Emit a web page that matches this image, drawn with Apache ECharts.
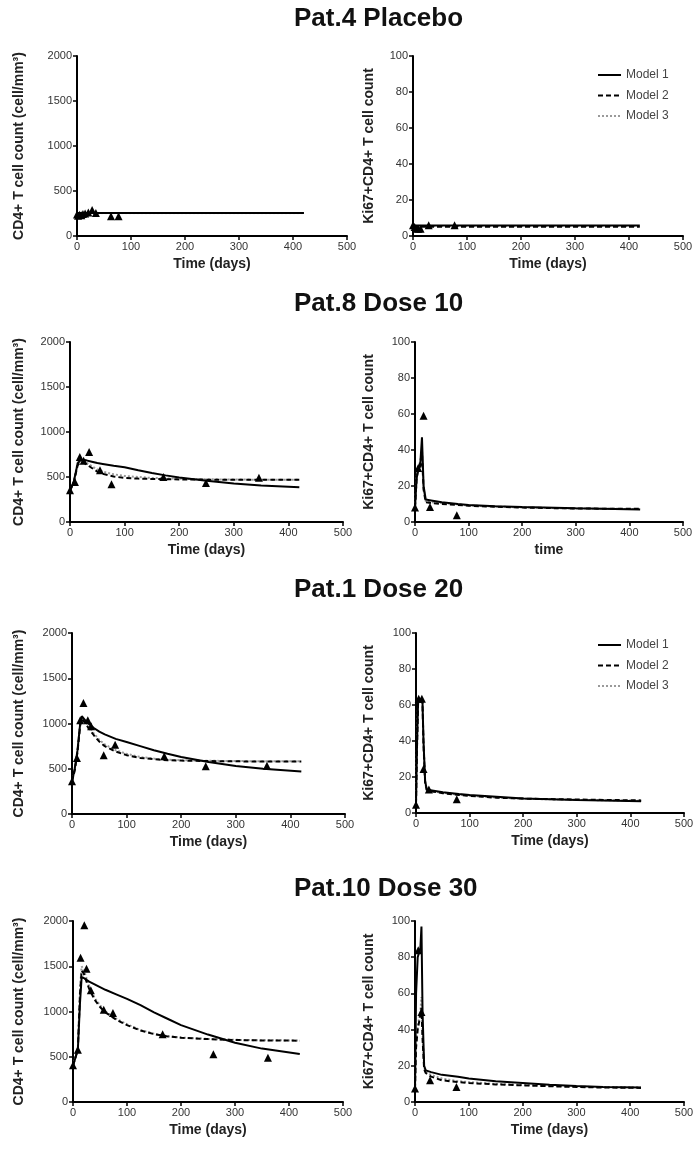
<!DOCTYPE html>
<html>
<head>
<meta charset="utf-8">
<script src="https://cdn.jsdelivr.net/npm/echarts@6/dist/echarts.min.js"></script>
<style>
  html, body { margin: 0; background: #fff; }
  #chart { width: 698px; height: 1150px; }
</style>
</head>
<body>
<div id="chart"></div>
<script>
// panel titles and axis names
const titles = ['Pat.4 Placebo', 'Pat.8 Dose 10', 'Pat.1 Dose 20', 'Pat.10 Dose 30'];
const modelNames = ['Model 1', 'Model 2', 'Model 3'];
const cdAxisName = 'CD4+ T cell count (cell/mm³)';
const kiAxisName = 'Ki67+CD4+ T cell count';
const xAxisNames = ['Time (days)', 'Time (days)', 'Time (days)', 'time', 'Time (days)', 'Time (days)', 'Time (days)', 'Time (days)'];

// Pat.4 placebo
const p4CdObsT = [0, 2, 5, 8, 11, 15, 21, 28, 35, 63, 77];
const p4CdObsY = [240, 225, 235, 230, 245, 250, 260, 290, 255, 220, 220];
const p4CdModT = [0, 420];
const p4CdM1 = [255, 255];
const p4CdM2 = [255, 255];
const p4CdM3 = [255, 255];
const p4KiObsT = [0, 3, 7, 10, 14, 29, 77];
const p4KiObsY = [6, 5, 4, 4, 4, 6, 6];
const p4KiModT = [0, 420];
const p4KiM1 = [5.8, 5.8];
const p4KiM2 = [5.2, 5.2];
const p4KiM3 = [5.5, 5.5];

// Pat.8 dose 10
const p8CdObsT = [0, 9, 18, 25, 35, 55, 76, 171, 249, 346];
const p8CdObsY = [352, 444, 722, 680, 778, 574, 419, 500, 433, 493];
const p8CdModT = [0, 7, 14, 18, 21, 25, 30, 40, 50, 60, 80, 100, 125, 150, 175, 200, 250, 300, 350, 420];
const p8CdM1 = [350, 450, 650, 680, 690, 690, 685, 670, 655, 645, 625, 608, 575, 545, 518, 495, 458, 428, 405, 385];
const p8CdM2 = [350, 440, 630, 660, 665, 660, 640, 600, 560, 535, 505, 490, 482, 478, 475, 473, 471, 470, 470, 470];
const p8CdM3 = [350, 450, 660, 690, 690, 680, 660, 620, 585, 560, 530, 512, 500, 490, 485, 480, 475, 472, 470, 468];
const p8KiObsT = [0, 6, 16, 28, 78];
const p8KiObsY = [8, 30, 59, 8.3, 3.7];
const p8KiModT = [0, 3, 6, 10, 13, 16, 20, 30, 50, 80, 100, 150, 200, 300, 420];
const p8KiM1 = [8, 24, 30, 33, 47, 20, 12.5, 12, 11, 10, 9.5, 8.8, 8.3, 7.6, 7];
const p8KiM2 = [8, 24, 29, 31, 38, 18, 11, 10.5, 10, 9.5, 9, 8.5, 8, 7.5, 7.3];
const p8KiM3 = [8, 25, 30, 34, 40, 19, 11.5, 11, 10.5, 9.8, 9.2, 8.6, 8.1, 7.5, 7.2];

// Pat.1 dose 20
const p1CdObsT = [0, 9, 15, 21, 29, 35, 58, 79, 169, 245, 357];
const p1CdObsY = [361, 619, 1035, 1226, 1035, 969, 648, 766, 637, 527, 534];
const p1CdModT = [0, 5, 10, 15, 18, 21, 25, 30, 40, 50, 60, 80, 100, 125, 150, 175, 200, 250, 300, 350, 420];
const p1CdM1 = [360, 500, 700, 1000, 1080, 1060, 1030, 1000, 950, 910, 880, 830, 795, 750, 705, 665, 630, 575, 530, 500, 470];
const p1CdM2 = [360, 480, 680, 980, 1050, 1040, 1000, 950, 870, 800, 750, 690, 650, 620, 605, 595, 590, 585, 582, 580, 580];
const p1CdM3 = [360, 490, 690, 1000, 1070, 1060, 1020, 970, 890, 820, 770, 705, 665, 630, 612, 600, 594, 588, 585, 583, 582];
const p1KiObsT = [0, 5, 11, 14, 24, 76];
const p1KiObsY = [4.6, 63.5, 63.5, 24.5, 13, 7.7];
const p1KiModT = [0, 2, 4, 8, 12, 14, 17, 20, 30, 50, 80, 100, 150, 200, 300, 420];
const p1KiM1 = [5, 40, 63, 63, 63, 40, 18, 13, 12.5, 11.5, 10.5, 10, 9, 8, 7.2, 6.5];
const p1KiM2 = [5, 38, 62, 62, 62, 38, 17, 13, 12, 11, 10, 9.5, 8.5, 8, 7.5, 7];
const p1KiM3 = [5, 39, 62, 63, 62, 39, 17, 12.5, 12, 11.2, 10.2, 9.6, 8.6, 7.9, 7.3, 6.8];

// Pat.10 dose 30
const p10CdObsT = [0, 9, 14, 21, 25, 33, 57, 74, 166, 260, 361];
const p10CdObsY = [405, 578, 1595, 1952, 1473, 1234, 1020, 983, 748, 527, 490];
const p10CdModT = [0, 5, 9, 13, 16, 20, 25, 30, 40, 50, 60, 80, 100, 125, 150, 175, 200, 250, 300, 350, 420];
const p10CdM1 = [400, 500, 580, 1100, 1380, 1370, 1350, 1330, 1300, 1270, 1240, 1190, 1140, 1070, 990, 920, 850, 745, 655, 590, 530];
const p10CdM2 = [400, 500, 580, 1200, 1450, 1420, 1330, 1250, 1130, 1050, 990, 910, 850, 790, 750, 725, 710, 695, 685, 680, 678];
const p10CdM3 = [400, 510, 590, 1250, 1500, 1460, 1370, 1280, 1150, 1070, 1000, 920, 860, 795, 755, 728, 712, 697, 687, 682, 680];
const p10KiObsT = [0, 6, 12, 28, 77];
const p10KiObsY = [7.4, 83.8, 49.7, 12, 8.3];
const p10KiModT = [0, 2, 5, 10, 12, 14, 17, 20, 30, 50, 80, 100, 150, 200, 250, 300, 350, 420];
const p10KiM1 = [7, 60, 80, 85, 97, 50, 20, 17.5, 16.5, 15, 14, 13, 11.5, 10.5, 9.5, 8.8, 8.3, 8];
const p10KiM2 = [7, 30, 40, 48, 52, 35, 18, 16, 14, 12, 11, 10.5, 9.7, 9.2, 8.7, 8.3, 8, 7.8];
const p10KiM3 = [7, 32, 42, 50, 58, 38, 19, 16.5, 15, 13, 11.5, 11, 10, 9.4, 8.9, 8.5, 8.2, 8];

const panels = [
  { obsT: p4CdObsT, obsY: p4CdObsY, modT: p4CdModT, m: [p4CdM1, p4CdM2, p4CdM3], max: 2000, step: 500 },
  { obsT: p4KiObsT, obsY: p4KiObsY, modT: p4KiModT, m: [p4KiM1, p4KiM2, p4KiM3], max: 100, step: 20 },
  { obsT: p8CdObsT, obsY: p8CdObsY, modT: p8CdModT, m: [p8CdM1, p8CdM2, p8CdM3], max: 2000, step: 500 },
  { obsT: p8KiObsT, obsY: p8KiObsY, modT: p8KiModT, m: [p8KiM1, p8KiM2, p8KiM3], max: 100, step: 20 },
  { obsT: p1CdObsT, obsY: p1CdObsY, modT: p1CdModT, m: [p1CdM1, p1CdM2, p1CdM3], max: 2000, step: 500 },
  { obsT: p1KiObsT, obsY: p1KiObsY, modT: p1KiModT, m: [p1KiM1, p1KiM2, p1KiM3], max: 100, step: 20 },
  { obsT: p10CdObsT, obsY: p10CdObsY, modT: p10CdModT, m: [p10CdM1, p10CdM2, p10CdM3], max: 2000, step: 500 },
  { obsT: p10KiObsT, obsY: p10KiObsY, modT: p10KiModT, m: [p10KiM1, p10KiM2, p10KiM3], max: 100, step: 20 }
];

// plot areas, in pixels
const grids = [
  { left: 77, top: 56, width: 270, height: 180 },
  { left: 413, top: 56, width: 270, height: 180 },
  { left: 70, top: 342, width: 273, height: 180 },
  { left: 415, top: 342, width: 268, height: 180 },
  { left: 72, top: 633, width: 273, height: 181 },
  { left: 416, top: 633, width: 268, height: 180 },
  { left: 73, top: 921, width: 270, height: 181 },
  { left: 415, top: 921, width: 269, height: 181 }
];
const yNameGaps = [52, 38, 45, 40, 47, 41, 48, 40];
const titleTops = [1, 286, 572, 871];

const FONT = '"Liberation Sans", Arial, sans-serif';
const lineStyles = [
  { color: '#000', width: 2, type: 'solid' },
  { color: '#000', width: 2, type: [5, 3] },
  { color: '#9a9a9a', width: 2, type: [2, 2] }
];

const pairs = (t, y) => t.map((v, i) => [v, y[i]]);

const xAxis = [], yAxis = [], series = [];
panels.forEach((p, i) => {
  xAxis.push({
    type: 'value', gridIndex: i, min: 0, max: 500, interval: 100,
    name: xAxisNames[i], nameLocation: 'middle', nameGap: 21,
    nameTextStyle: { fontFamily: FONT, fontSize: 14, fontWeight: 'bold', color: '#222' },
    axisLine: { onZero: false, lineStyle: { color: '#000', width: 2 } },
    axisTick: { show: true, length: 4, lineStyle: { color: '#000', width: 1.5 } },
    axisLabel: { fontFamily: FONT, fontSize: 11, color: '#333', margin: 5, formatter: v => String(v) },
    splitLine: { show: false }
  });
  yAxis.push({
    type: 'value', gridIndex: i, min: 0, max: p.max, interval: p.step,
    name: i % 2 === 0 ? cdAxisName : kiAxisName, nameLocation: 'middle', nameGap: yNameGaps[i] - 1,
    nameTextStyle: { fontFamily: FONT, fontSize: 14, fontWeight: 'bold', color: '#222' },
    axisLine: { show: true, onZero: false, lineStyle: { color: '#000', width: 2 } },
    axisTick: { show: true, length: 4, lineStyle: { color: '#000', width: 1.5 } },
    axisLabel: { fontFamily: FONT, fontSize: 11, color: '#333', margin: 5, formatter: v => String(v) },
    splitLine: { show: false }
  });
  // model curves: Model 3 below, Model 1 on top
  [2, 1, 0].forEach(k => {
    series.push({
      type: 'line', name: modelNames[k], xAxisIndex: i, yAxisIndex: i,
      data: pairs(p.modT, p.m[k]), symbol: 'none', smooth: false,
      lineStyle: lineStyles[k], itemStyle: { color: lineStyles[k].color },
      z: 3 + (2 - k), clip: false, silent: true
    });
  });
  series.push({
    type: 'scatter', name: 'Observed', xAxisIndex: i, yAxisIndex: i,
    data: pairs(p.obsT, p.obsY), symbol: 'triangle', symbolSize: 8,
    itemStyle: { color: '#000', opacity: 1 }, z: 10, silent: true
  });
});

const legendBase = {
  data: modelNames, orient: 'vertical', left: 592,
  itemWidth: 23, itemHeight: 12, itemGap: 8.5,
  itemStyle: { opacity: 0 },
  textStyle: { fontFamily: FONT, fontSize: 12, color: '#444' },
  selectedMode: false
};

const chart = echarts.init(document.getElementById('chart'));
chart.setOption({
  backgroundColor: '#fff',
  animation: false,
  title: titles.map((t, i) => ({
    text: t, left: 289, top: titleTops[i],
    textStyle: { fontFamily: FONT, fontSize: 26, fontWeight: 'bold', color: '#111' }
  })),
  legend: [
    Object.assign({}, legendBase, { top: 64 }),
    Object.assign({}, legendBase, { top: 634 })
  ],
  grid: grids,
  xAxis: xAxis,
  yAxis: yAxis,
  series: series
});
</script>
</body>
</html>
